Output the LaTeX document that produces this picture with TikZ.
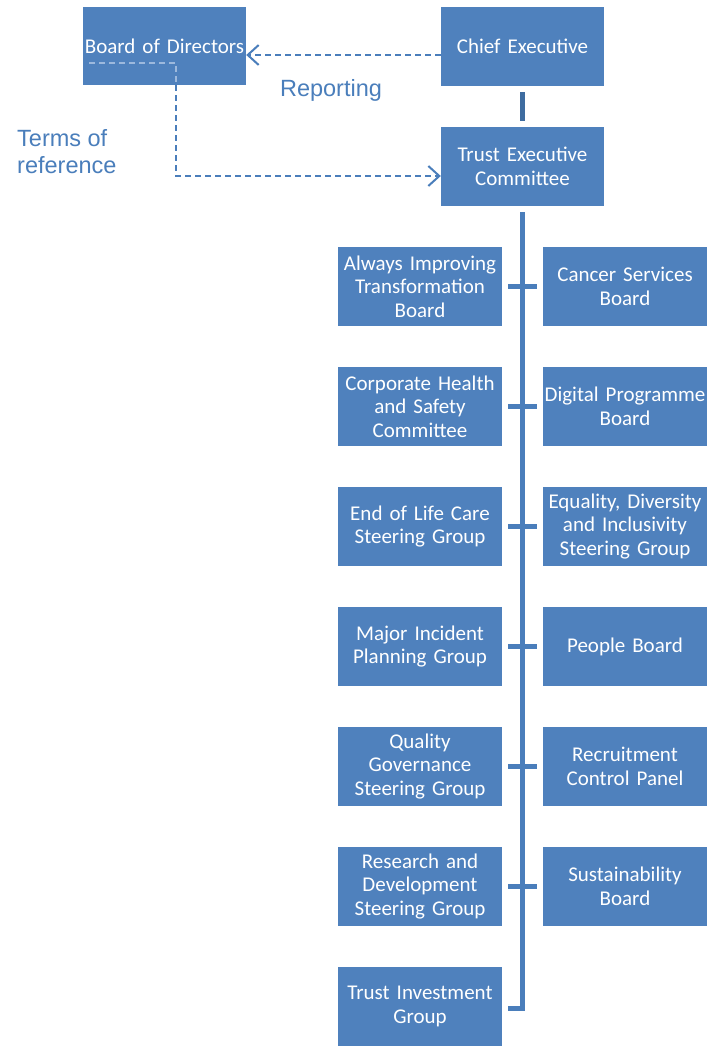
\documentclass[tikz,border=0pt]{standalone}
\usepackage{fontspec}
\setmainfont{Carlito}
\newfontfamily\labelfont{Liberation Sans}
\usetikzlibrary{arrows.meta}
\definecolor{boxblue}{HTML}{4F81BD}
\definecolor{lineblue}{HTML}{4A7EBB}
\definecolor{darkline}{HTML}{3E6CA0}
\definecolor{faintline}{HTML}{9DB9DD}
\begin{document}
\begin{tikzpicture}[x=1pt,y=-1pt,
  orgbox/.style={fill=boxblue, draw=none, minimum width=164pt, minimum height=79pt,
    text width=162pt, inner sep=0pt, align=center, text=white,
    font=\fontsize{21}{23.5}\selectfont},
  trunk/.style={draw=lineblue, line width=5pt},
  flow/.style={draw=lineblue, line width=2pt, dash pattern=on 6pt off 4pt,
    -{Straight Barb[length=11pt,width=20pt,line width=2pt]}},
  faintflow/.style={draw=faintline, line width=1.5pt, dash pattern=on 6pt off 4pt},
  caption/.style={text=lineblue, inner sep=0pt, align=left,
    font=\labelfont\fontsize{23.5}{27}\selectfont}
]
\useasboundingbox (0,0) rectangle (711,1046);

% top level
\node[orgbox, minimum width=163pt, minimum height=78pt] (bod) at (164.5,46) {Board of Directors};
\node[orgbox, minimum width=163pt] (ce)  at (522.5,46.5)  {Chief Executive};
\node[orgbox, minimum width=163pt] (tec) at (522.5,166.5) {Trust Executive\\Committee};

% groups reporting to the executive committee
\node[orgbox] (l1) at (420,286.5)  {Always Improving\\Transformation\\Board};
\node[orgbox] (r1) at (625,286.5)  {Cancer Services\\Board};
\node[orgbox] (l2) at (420,406.5)  {Corporate Health\\and Safety\\Committee};
\node[orgbox] (r2) at (625,406.5)  {Digital Programme\\Board};
\node[orgbox] (l3) at (420,526.5)  {End of Life Care\\Steering Group};
\node[orgbox] (r3) at (625,526.5)  {Equality, Diversity\\and Inclusivity\\Steering Group};
\node[orgbox] (l4) at (420,646.5)  {Major Incident\\Planning Group};
\node[orgbox] (r4) at (625,646.5)  {People Board};
\node[orgbox] (l5) at (420,766.5)  {Quality\\Governance\\Steering Group};
\node[orgbox] (r5) at (625,766.5)  {Recruitment\\Control Panel};
\node[orgbox] (l6) at (420,886.5)  {Research and\\Development\\Steering Group};
\node[orgbox] (r6) at (625,886.5)  {Sustainability\\Board};
\node[orgbox] (l7) at (420,1006.5) {Trust Investment\\Group};

% solid reporting lines
\draw[draw=darkline, line width=5pt] ([yshift=-6pt]ce.south) -- ([yshift=6pt]tec.north);
\coordinate (tbot) at (522.5,1008);
\draw[trunk, line join=miter] ([yshift=-6pt]tec.south) -- (tbot) -- ([xshift=6pt]l7.east |- tbot);
\foreach \i in {1,...,6}
  \draw[trunk] ([xshift=6pt]l\i.east) -- ([xshift=-6pt]r\i.west);

% dashed reporting and terms of reference
\draw[flow] ([yshift=-8.5pt]ce.west) -- ([yshift=-8.5pt]ce.west -| bod.east);
\coordinate (torA) at (176,63);
\coordinate (torC) at (176,176);
\draw[faintflow] (89,63) -- (torA) -- (torA |- bod.south);
\draw[flow] (torA |- bod.south) -- (torC) -- (torC -| tec.west);

\node[caption] (rep) at (331,90) {Reporting};
\node[caption, anchor=west] (tor) at (17,152) {Terms of\\reference};
\end{tikzpicture}
\end{document}
